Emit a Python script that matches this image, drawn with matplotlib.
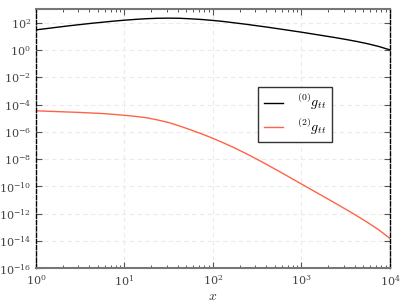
import numpy as np
import matplotlib
matplotlib.use("Agg")
import matplotlib.pyplot as plt

plt.rcParams["mathtext.fontset"] = "cm"
plt.rcParams["font.family"] = "DejaVu Serif"

# log10(x), sampled every eighth of a decade
logx = [0.0, 0.125, 0.25, 0.375, 0.5, 0.625, 0.75, 0.875,
        1.0, 1.125, 1.25, 1.375, 1.5, 1.625, 1.75, 1.875,
        2.0, 2.125, 2.25, 2.375, 2.5, 2.625, 2.75, 2.875,
        3.0, 3.125, 3.25, 3.375, 3.5, 3.625, 3.75, 3.875, 4.0]

# log10 of (0) g_tt
g0_exp = [1.48, 1.58, 1.68, 1.78, 1.87, 1.96, 2.04, 2.12,
          2.19, 2.25, 2.30, 2.33, 2.34, 2.33, 2.29, 2.24,
          2.17, 2.09, 1.99, 1.89, 1.78, 1.67, 1.55, 1.43,
          1.31, 1.18, 1.05, 0.92, 0.78, 0.63, 0.46, 0.26, 0.01]

# log10 of (2) g_tt
g2_exp = [-4.46, -4.49, -4.52, -4.55, -4.58, -4.62, -4.66, -4.72,
          -4.79, -4.87, -4.97, -5.13, -5.32, -5.58, -5.86, -6.16,
          -6.48, -6.83, -7.20, -7.60, -8.02, -8.46, -8.91, -9.37,
          -9.83, -10.29, -10.75, -11.21, -11.68, -12.16, -12.66, -13.20, -13.82]

x = 10.0 ** np.array(logx)
g0 = 10.0 ** np.array(g0_exp)
g2 = 10.0 ** np.array(g2_exp)

fig = plt.figure(figsize=(4.07, 3.05), dpi=100)
ax = fig.add_axes([0.0885, 0.121, 0.8695, 0.849])

ax.loglog(x, g0, color="black", lw=1.0, label=r"$^{(0)}g_{tt}$")
ax.loglog(x, g2, color="#FF6347", lw=1.0, label=r"$^{(2)}g_{tt}$")

ax.set_xlim(1, 1e4)
ax.set_ylim(1e-16, 1e3)
ax.set_yticks([10.0 ** k for k in range(-16, 3, 2)])
ax.yaxis.set_minor_locator(matplotlib.ticker.NullLocator())
ax.xaxis.set_minor_locator(matplotlib.ticker.LogLocator(base=10, subs=np.arange(2, 10), numticks=20))

ax.grid(True, which="major", ls=(0, (4, 3)), color="#ebebeb", lw=0.8)
ax.set_axisbelow(True)

ax.tick_params(which="both", direction="in", top=True, right=True,
               labelsize=8, colors="#555555", labelcolor="#444444")
ax.tick_params(which="major", length=4, width=0.8)
ax.tick_params(which="minor", length=2.5, width=0.7)

for s in ["top", "bottom"]:
    ax.spines[s].set_color("#777777")
    ax.spines[s].set_linewidth(1.5)
for s in ["left", "right"]:
    ax.spines[s].set_color("black")
    ax.spines[s].set_linestyle((0, (3, 1.5)))
    ax.spines[s].set_linewidth(1.0)

ax.set_xlabel(r"$x$", fontsize=10, color="#333333", labelpad=1)

leg = ax.legend(loc="upper left", bbox_to_anchor=(0.628, 0.70), fontsize=10,
                fancybox=False, framealpha=1, edgecolor="#333333",
                handlelength=1.4, borderpad=0.4, labelspacing=0.3,
                handletextpad=1.0, borderaxespad=0)
leg.get_frame().set_linewidth(1.0)

fig.savefig("out.png", dpi=100)
